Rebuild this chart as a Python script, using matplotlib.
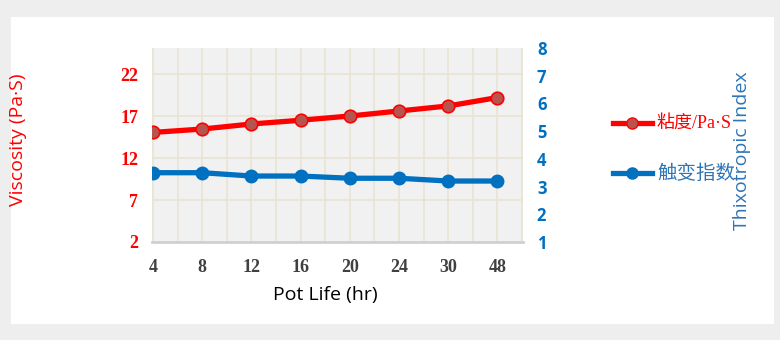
import matplotlib.pyplot as plt
from matplotlib.patches import Rectangle

hours = ['4', '8', '12', '16', '20', '24', '30', '48']
viscosity = [15.05, 15.45, 16.05, 16.5, 17.0, 17.6, 18.2, 19.2]
thixo = [3.5, 3.5, 3.38, 3.38, 3.3, 3.3, 3.2, 3.2]

red = '#ff0000'
blue = '#0070c0'
x = list(range(len(hours)))

fig = plt.figure(figsize=(7.8, 3.4), dpi=100)
fig.patch.set_facecolor('#eeeeee')
fig.patches.append(Rectangle((11 / 780, 16 / 340), 763 / 780, 307 / 340,
                             transform=fig.transFigure, facecolor='white',
                             edgecolor='none', zorder=-5))

ax = fig.add_axes([152 / 780, 98 / 340, 371 / 780, 194 / 340])
ax.set_facecolor('#f1f1f1')
ax2 = ax.twinx()

# grid: horizontal at ticks, vertical every half category
for v in [7, 12, 17, 22]:
    ax.axhline(v, color='#e8e4d4', lw=1.2, zorder=0)
for i in range(16):
    ax.axvline(i * 0.5, color='#e8e4d4', lw=1.2, zorder=0)

ax.plot(x, viscosity, color=red, lw=3.8, marker='o', ms=9,
        mfc='#b85450', mec=red, mew=1.2, zorder=3)
ax2.plot(x, thixo, color=blue, lw=3.8, marker='o', ms=9,
         mfc=blue, mec=blue, zorder=3)

ax.set_xlim(-0.02, 7.52)
ax.set_ylim(2, 25.1)
ax2.set_ylim(1, 8)
ax.set_yticks([2, 7, 12, 17, 22])
ax2.set_yticks(range(1, 9))
ax.set_xticks(x)
ax.set_xticklabels(hours)

for a in (ax, ax2):
    for s in a.spines.values():
        s.set_visible(False)
ax.spines['bottom'].set_visible(True)
ax.spines['bottom'].set_color('#d0d0d0')
ax.spines['bottom'].set_linewidth(2)

ax.tick_params(axis='both', length=0)
ax2.tick_params(axis='y', length=0, pad=10)
ax.tick_params(axis='y', pad=10)
ax.tick_params(axis='x', pad=12)
for t in ax.get_yticklabels():
    t.set_fontfamily('Liberation Serif')
    t.set_fontweight('bold')
    t.set_fontsize(13)
    t.set_color(red)
for t in ax.get_xticklabels():
    t.set_fontfamily('Liberation Serif')
    t.set_fontweight('bold')
    t.set_fontsize(13)
    t.set_color('#404040')
for t in ax2.get_yticklabels():
    t.set_fontfamily('Open Sans')
    t.set_fontweight('bold')
    t.set_fontsize(12)
    t.set_color(blue)

fig.text(18 / 780, 200 / 340, 'Viscosity (Pa·S)', rotation=90, color=red,
         fontsize=14, family='Open Sans', ha='center', va='center')
fig.text(325 / 780, 45 / 340, 'Pot Life (hr)', color='black',
         fontsize=14, family='Open Sans', ha='center', va='center')
fig.text(742 / 780, 189 / 340, 'Thixotropic Index', rotation=90,
         color='#2e75b6', fontsize=14, family='Open Sans',
         ha='center', va='center')

# legend
lx = [613 / 780, 652 / 780]
fig.add_artist(plt.Line2D(lx, [217 / 340] * 2, color=red, lw=3.8,
                          transform=fig.transFigure))
fig.add_artist(plt.Line2D([632 / 780], [217 / 340], marker='o', ms=8,
                          mfc='#b85450', mec=red, transform=fig.transFigure))
fig.add_artist(plt.Line2D(lx, [167 / 340] * 2, color=blue, lw=3.8,
                          transform=fig.transFigure))
fig.add_artist(plt.Line2D([632 / 780], [167 / 340], marker='o', ms=8,
                          mfc=blue, mec=blue, transform=fig.transFigure))
fig.text(657 / 780, 217 / 340, '粘度/Pa·S', color=red, fontsize=13,
         family=['Liberation Serif', 'Noto Sans CJK SC'], va='center')
fig.text(657 / 780, 167 / 340, '触变指数', color='#2e75b6', fontsize=14,
         family=['Noto Sans CJK SC', 'DejaVu Sans'], va='center')

fig.savefig('out.png', dpi=100, facecolor=fig.get_facecolor())
